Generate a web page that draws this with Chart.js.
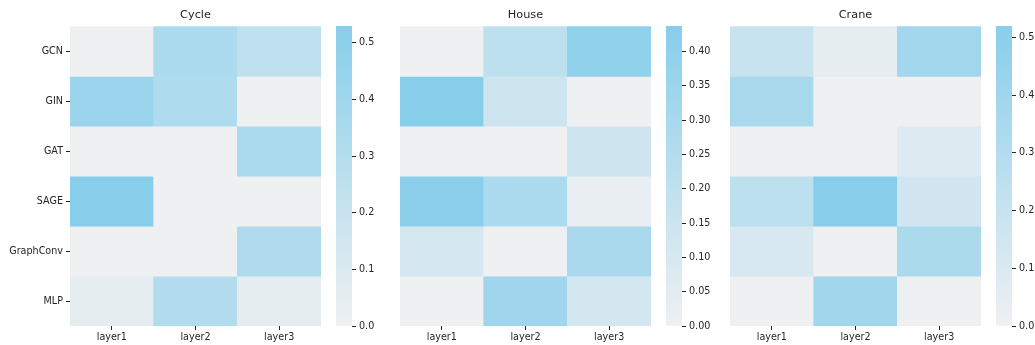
<!DOCTYPE html>
<html>
<head>
<meta charset="utf-8">
<script src="https://cdn.jsdelivr.net/npm/chart.js@4.4.1/dist/chart.umd.min.js"></script>
<style>
  body { margin: 0; background: #fff; }
  #wrap { position: relative; width: 1035px; height: 345px; }
  canvas { position: absolute; top: 0; }
</style>
</head>
<body>
<div id="wrap">
  <canvas id="heat1" width="330" height="345" style="left:0px"></canvas>
  <canvas id="bar1" width="50" height="345" style="left:336px"></canvas>
  <canvas id="heat2" width="260" height="345" style="left:400px"></canvas>
  <canvas id="bar2" width="60" height="345" style="left:666px"></canvas>
  <canvas id="heat3" width="260" height="345" style="left:730px"></canvas>
  <canvas id="bar3" width="39" height="345" style="left:996px"></canvas>
</div>
<script>
// Data
const rowLabels = ['GCN', 'GIN', 'GAT', 'SAGE', 'GraphConv', 'MLP'];
const layerLabels = ['layer1', 'layer2', 'layer3'];

const cycleValues = [
    [0.00, 0.34, 0.25],
    [0.43, 0.33, 0.00],
    [0.00, 0.00, 0.34],
    [0.53, 0.00, 0.00],
    [0.00, 0.00, 0.32],
    [0.05, 0.31, 0.05]
];
const houseValues = [
    [0.00, 0.21, 0.40],
    [0.437, 0.14, 0.00],
    [0.00, 0.00, 0.14],
    [0.42, 0.28, 0.03],
    [0.11, 0.00, 0.29],
    [0.00, 0.33, 0.12]
];
const craneValues = [
    [0.20, 0.05, 0.38],
    [0.35, 0.00, 0.00],
    [0.00, 0.00, 0.09],
    [0.25, 0.52, 0.15],
    [0.12, 0.00, 0.34],
    [0.00, 0.39, 0.00]
];

const cycleTicks = [0.0, 0.1, 0.2, 0.3, 0.4, 0.5];
const houseTicks = [0.00, 0.05, 0.10, 0.15, 0.20, 0.25, 0.30, 0.35, 0.40];
const craneTicks = [0.0, 0.1, 0.2, 0.3, 0.4, 0.5];

// Styling
const LOW = [239, 240, 242];
const HIGH = [135, 206, 235];
const textColor = '#262626';
const tickFont = { family: 'DejaVu Sans', size: 9.6 };
const titleFont = { family: 'DejaVu Sans', size: 11.3, weight: 'normal' };

function mix(t) {
    const c = LOW.map((lo, i) => Math.round(lo + (HIGH[i] - lo) * t));
    return `rgb(${c[0]}, ${c[1]}, ${c[2]})`;
}

function cellColor(v, vmax) {
    return mix(Math.max(0, Math.min(1, v / vmax)));
}

function makeHeatmap(id, title, values, showRows) {
    const vmax = Math.max(...values.flat());
    const datasets = rowLabels.map((name, r) => ({
        label: name,
        data: layerLabels.map(() => 1),
        backgroundColor: values[r].map(v => cellColor(v, vmax)),
        borderWidth: 0,
        barPercentage: 1,
        categoryPercentage: 1
    }));

    new Chart(document.getElementById(id), {
        type: 'bar',
        data: { labels: layerLabels, datasets: datasets },
        options: {
            responsive: false,
            animation: false,
            events: [],
            layout: { padding: { left: 0, right: 9, top: 0, bottom: 0 } },
            plugins: {
                legend: { display: false },
                tooltip: { enabled: false },
                title: {
                    display: true,
                    text: title,
                    fullSize: false,
                    color: textColor,
                    font: titleFont,
                    padding: { top: 8.4, bottom: 4.4 }
                }
            },
            scales: {
                x: {
                    stacked: true,
                    border: { display: false },
                    grid: { offset: false, drawOnChartArea: false, tickLength: 4, color: textColor },
                    ticks: { color: textColor, font: tickFont, padding: 2, maxRotation: 0 },
                    afterFit: (scale) => { scale.height = 19; }
                },
                y: {
                    stacked: true,
                    reverse: true,
                    min: 0,
                    max: rowLabels.length,
                    display: showRows,
                    border: { display: false },
                    grid: { drawOnChartArea: false, tickLength: 4, color: textColor },
                    afterBuildTicks: (axis) => {
                        axis.ticks = rowLabels.map((_, i) => ({ value: i + 0.5 }));
                    },
                    ticks: {
                        color: textColor,
                        font: tickFont,
                        padding: 3,
                        autoSkip: false,
                        callback: (value, index) => rowLabels[index]
                    },
                    afterFit: (scale) => { scale.width = showRows ? 70 : 0; }
                }
            }
        }
    });
}

function makeColorbar(id, values, tickValues, decimals, axisWidth) {
    const vmax = Math.max(...values.flat());

    new Chart(document.getElementById(id), {
        type: 'bar',
        data: {
            labels: [''],
            datasets: [{
                data: [[0, vmax]],
                borderWidth: 0,
                barPercentage: 1,
                categoryPercentage: 1,
                backgroundColor: (ctx) => {
                    const area = ctx.chart.chartArea;
                    if (!area) return mix(0);
                    const g = ctx.chart.ctx.createLinearGradient(0, area.bottom, 0, area.top);
                    g.addColorStop(0, mix(0));
                    g.addColorStop(1, mix(1));
                    return g;
                }
            }]
        },
        options: {
            responsive: false,
            animation: false,
            events: [],
            layout: { padding: { top: 26, bottom: 19, left: 0, right: 0 } },
            plugins: { legend: { display: false }, tooltip: { enabled: false } },
            scales: {
                x: { display: false },
                y: {
                    position: 'right',
                    min: 0,
                    max: vmax,
                    border: { display: false },
                    grid: { drawOnChartArea: false, tickLength: 4, color: textColor },
                    afterBuildTicks: (axis) => {
                        axis.ticks = tickValues.map(v => ({ value: v }));
                    },
                    ticks: {
                        color: textColor,
                        font: tickFont,
                        padding: 3,
                        autoSkip: false,
                        callback: (value) => Number(value).toFixed(decimals)
                    },
                    afterFit: (scale) => { scale.width = axisWidth; }
                }
            }
        }
    });
}

makeHeatmap('heat1', 'Cycle', cycleValues, true);
makeColorbar('bar1', cycleValues, cycleTicks, 1, 34);
makeHeatmap('heat2', 'House', houseValues, false);
makeColorbar('bar2', houseValues, houseTicks, 2, 44);
makeHeatmap('heat3', 'Crane', craneValues, false);
makeColorbar('bar3', craneValues, craneTicks, 1, 23);
</script>
</body>
</html>
